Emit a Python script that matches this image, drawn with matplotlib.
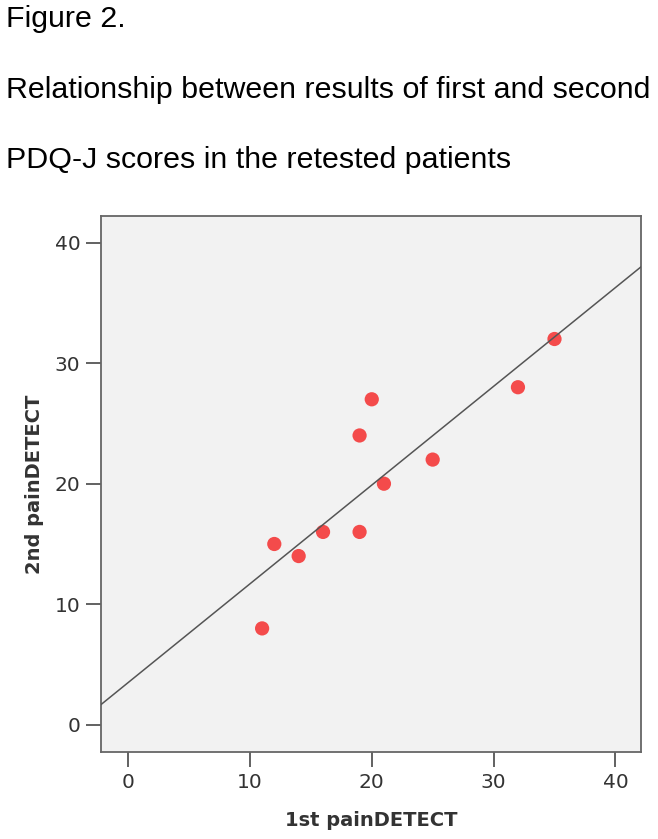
#!/usr/bin/env python3
"""Scatter of first vs second painDETECT scores with a fitted line."""

import matplotlib

matplotlib.use("Agg")
import matplotlib.pyplot as plt
import numpy as np


first_score = [11, 12, 14, 16, 19, 19, 20, 21, 25, 32, 35]
second_score = [8, 15, 14, 16, 16, 24, 27, 20, 22, 28, 32]
ticks = [0, 10, 20, 30, 40]

title_lines = [
    "Figure 2.",
    "Relationship between results of first and second",
    "PDQ-J scores in the retested patients",
]

W, H = 658, 839
DPI = 100

fig = plt.figure(figsize=(W / DPI, H / DPI), dpi=DPI, facecolor="white")

# header text, baselines in pixels from the top
for line, y_px in zip(title_lines, [27.3, 98.3, 168.3]):
    fig.text(6.5 / W, 1 - y_px / H, line, family="Liberation Sans", fontsize=21.9,
             color="black", va="baseline", ha="left")

ax = fig.add_axes([101.3 / W, 1 - 752 / H, (641 - 101.3) / W, (752 - 216) / H])
ax.set_facecolor("#f2f2f2")

x = np.array(first_score, dtype=float)
y = np.array(second_score, dtype=float)
ax.scatter(x, y, s=105, color="#f44b4b", edgecolors="none", zorder=2)

xlim = (-2.2, 42.1)
ylim = (-2.25, 42.2)
slope, intercept = np.polyfit(x, y, 1)
xs = np.array(xlim)
ax.plot(xs, slope * xs + intercept, color="#555555", lw=1.1, zorder=3)

ax.set_xlim(*xlim)
ax.set_ylim(*ylim)
ax.set_xticks(ticks)
ax.set_yticks(ticks)

for side in ax.spines.values():
    side.set_color("#666666")
    side.set_linewidth(1.3)

ax.tick_params(axis="both", direction="out", length=11, width=1.3, color="#555555",
               labelsize=14.5, labelcolor="#333333", pad=4)

ax.set_xlabel("1st painDETECT", fontsize=14, fontweight="bold", color="#333333", labelpad=14)
ax.set_ylabel("2nd painDETECT", fontsize=14, fontweight="bold", color="#333333", labelpad=8)

fig.savefig("out.png", dpi=DPI, facecolor="white")
plt.close(fig)
